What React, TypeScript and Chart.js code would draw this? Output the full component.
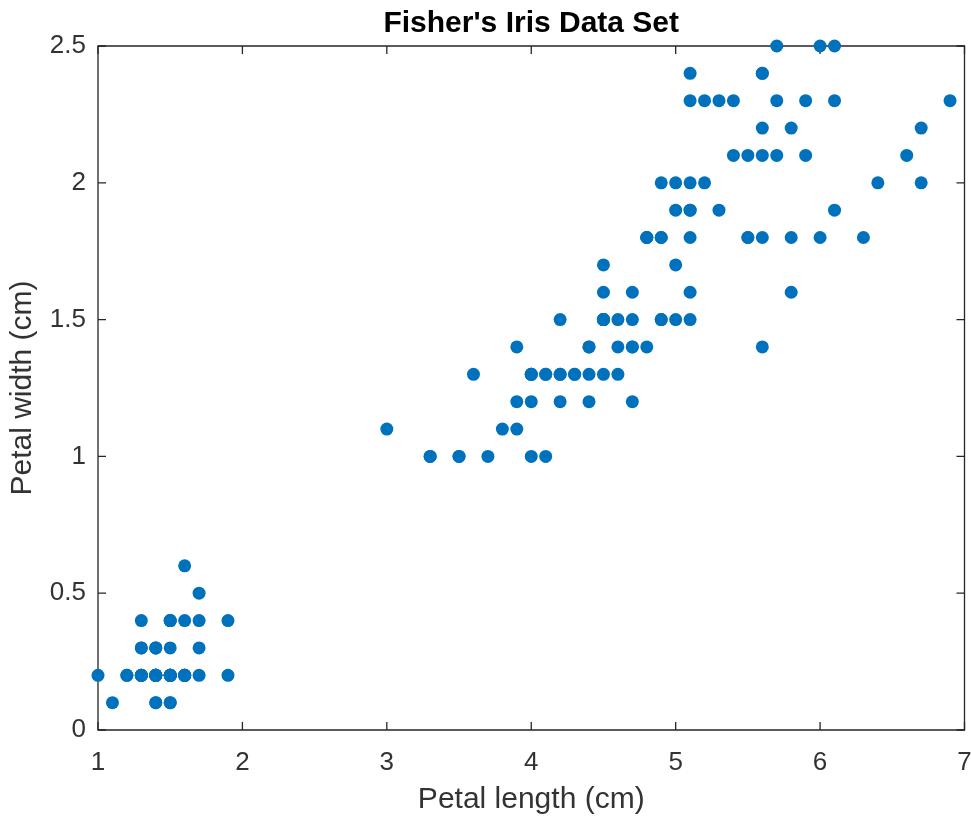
import React, { useEffect, useRef } from "react";
import { Chart, registerables } from "chart.js";

Chart.register(...registerables);

// Fisher's iris data: petal length (cm) and petal width (cm)
const petalLength: number[] = [
  1.4, 1.4, 1.3, 1.5, 1.4, 1.7, 1.4, 1.5, 1.4, 1.5, 1.5, 1.6, 1.4, 1.1, 1.2, 1.5, 1.3, 1.4, 1.7, 1.5,
  1.7, 1.5, 1.0, 1.7, 1.9, 1.6, 1.6, 1.5, 1.4, 1.6, 1.6, 1.5, 1.5, 1.4, 1.5, 1.2, 1.3, 1.4, 1.3, 1.5,
  1.3, 1.3, 1.3, 1.6, 1.9, 1.4, 1.6, 1.4, 1.5, 1.4,
  4.7, 4.5, 4.9, 4.0, 4.6, 4.5, 4.7, 3.3, 4.6, 3.9, 3.5, 4.2, 4.0, 4.7, 3.6, 4.4, 4.5, 4.1, 4.5, 3.9,
  4.8, 4.0, 4.9, 4.7, 4.3, 4.4, 4.8, 5.0, 4.5, 3.5, 3.8, 3.7, 3.9, 5.1, 4.5, 4.5, 4.7, 4.4, 4.1, 4.0,
  4.4, 4.6, 4.0, 3.3, 4.2, 4.2, 4.2, 4.3, 3.0, 4.1,
  6.0, 5.1, 5.9, 5.6, 5.8, 6.6, 4.5, 6.3, 5.8, 6.1, 5.1, 5.3, 5.5, 5.0, 5.1, 5.3, 5.5, 6.7, 6.9, 5.0,
  5.7, 4.9, 6.7, 4.9, 5.7, 6.0, 4.8, 4.9, 5.6, 5.8, 6.1, 6.4, 5.6, 5.1, 5.6, 6.1, 5.6, 5.5, 4.8, 5.4,
  5.6, 5.1, 5.1, 5.9, 5.7, 5.2, 5.0, 5.2, 5.4, 5.1,
];
const petalWidth: number[] = [
  0.2, 0.2, 0.2, 0.2, 0.2, 0.4, 0.3, 0.2, 0.2, 0.1, 0.2, 0.2, 0.1, 0.1, 0.2, 0.4, 0.4, 0.3, 0.3, 0.3,
  0.2, 0.4, 0.2, 0.5, 0.2, 0.2, 0.4, 0.2, 0.2, 0.2, 0.2, 0.4, 0.1, 0.2, 0.2, 0.2, 0.2, 0.1, 0.2, 0.2,
  0.3, 0.3, 0.2, 0.6, 0.4, 0.3, 0.2, 0.2, 0.2, 0.2,
  1.4, 1.5, 1.5, 1.3, 1.5, 1.3, 1.6, 1.0, 1.3, 1.4, 1.0, 1.5, 1.0, 1.4, 1.3, 1.4, 1.5, 1.0, 1.5, 1.1,
  1.8, 1.3, 1.5, 1.2, 1.3, 1.4, 1.4, 1.7, 1.5, 1.0, 1.1, 1.0, 1.2, 1.6, 1.5, 1.6, 1.5, 1.3, 1.3, 1.3,
  1.2, 1.4, 1.2, 1.0, 1.3, 1.2, 1.3, 1.3, 1.1, 1.3,
  2.5, 1.9, 2.1, 1.8, 2.2, 2.1, 1.7, 1.8, 1.8, 2.5, 2.0, 1.9, 2.1, 2.0, 2.4, 2.3, 1.8, 2.2, 2.3, 1.5,
  2.3, 2.0, 2.0, 1.8, 2.1, 1.8, 1.8, 1.8, 2.1, 1.6, 1.9, 2.0, 2.2, 1.5, 1.4, 2.3, 2.4, 1.8, 1.8, 2.1,
  2.4, 2.3, 1.9, 2.3, 2.5, 2.3, 1.9, 2.0, 2.3, 1.8,
];

const xTicks: number[] = [1, 2, 3, 4, 5, 6, 7];
const yTicks: number[] = [0, 0.5, 1, 1.5, 2, 2.5];

const titleText = "Fisher's Iris Data Set";
const xLabel = "Petal length (cm)";
const yLabel = "Petal width (cm)";

const AXIS_COLOR = "#262626";
const TEXT_COLOR = "#333333";
const FONT = "Arial, 'Liberation Sans', Helvetica, sans-serif";

const boxPlugin = {
  id: "matlabBox",
  beforeDatasetsDraw(chart: any) {
    const { ctx, chartArea, scales } = chart;
    const { left, right, top, bottom } = chartArea;
    const tl = 8;
    ctx.save();
    ctx.strokeStyle = AXIS_COLOR;
    ctx.lineWidth = 1.3;
    ctx.beginPath();
    ctx.rect(left, top, right - left, bottom - top);
    ctx.stroke();
    ctx.beginPath();
    for (const v of xTicks) {
      const px = scales.x.getPixelForValue(v);
      ctx.moveTo(px, bottom);
      ctx.lineTo(px, bottom - tl);
      ctx.moveTo(px, top);
      ctx.lineTo(px, top + tl);
    }
    for (const v of yTicks) {
      const py = scales.y.getPixelForValue(v);
      ctx.moveTo(left, py);
      ctx.lineTo(left + tl, py);
      ctx.moveTo(right, py);
      ctx.lineTo(right - tl, py);
    }
    ctx.stroke();
    ctx.restore();
  },
  afterDraw(chart: any) {
    const { ctx, chartArea } = chart;
    const { left, right, top } = chartArea;
    ctx.save();
    // title centred over the axes box, MATLAB style
    ctx.fillStyle = "#000000";
    ctx.font = `bold 30px ${FONT}`;
    ctx.textAlign = "center";
    ctx.textBaseline = "alphabetic";
    ctx.fillText(titleText, (left + right) / 2, top - 14.5);
    ctx.restore();
  },
};

export default function App() {
  const canvasRef = useRef<HTMLCanvasElement | null>(null);

  useEffect(() => {
    document.body.style.margin = "0";
    const canvas = canvasRef.current;
    if (!canvas) return;
    const points = petalLength.map((x, i) => ({ x, y: petalWidth[i] }));
    const chart = new Chart(canvas, {
      type: "scatter",
      data: {
        datasets: [
          {
            data: points,
            backgroundColor: "#0072BD",
            borderColor: "#0072BD",
            borderWidth: 0,
            pointRadius: 6.5,
            pointHoverRadius: 6.5,
            clip: false,
          },
        ],
      },
      options: {
        responsive: false,
        animation: false,
        devicePixelRatio: 1,
        layout: { padding: { left: 0, right: 0, top: 46, bottom: 0 } },
        plugins: {
          legend: { display: false },
          tooltip: { enabled: false },
          title: { display: false },
        },
        scales: {
          x: {
            type: "linear",
            min: 1,
            max: 7,
            afterBuildTicks: (scale: any) => {
              scale.ticks = xTicks.map((v) => ({ value: v }));
            },
            afterFit: (scale: any) => {
              scale.height = 88;
              scale.paddingLeft = 0;
              scale.paddingRight = 6;
            },
            grid: { display: false, drawTicks: false },
            border: { display: false },
            ticks: {
              color: TEXT_COLOR,
              font: { family: FONT, size: 26 },
              padding: 17,
              maxRotation: 0,
              callback: (v: any) => String(v),
            },
            title: {
              display: true,
              text: xLabel,
              color: TEXT_COLOR,
              font: { family: FONT, size: 30, lineHeight: 1.2 },
              padding: { top: 0, bottom: 0 },
            },
          },
          y: {
            type: "linear",
            min: 0,
            max: 2.5,
            afterBuildTicks: (scale: any) => {
              scale.ticks = yTicks.map((v) => ({ value: v }));
            },
            afterFit: (scale: any) => {
              scale.width = 98;
              scale.paddingTop = 0;
              scale.paddingBottom = 0;
            },
            grid: { display: false, drawTicks: false },
            border: { display: false },
            ticks: {
              color: TEXT_COLOR,
              font: { family: FONT, size: 26 },
              padding: 12,
              callback: (v: any) => String(v),
            },
            title: {
              display: true,
              text: yLabel,
              color: TEXT_COLOR,
              font: { family: FONT, size: 30, lineHeight: 1.2 },
              padding: { top: 5, bottom: 0 },
            },
          },
        },
      },
      plugins: [boxPlugin],
    });
    return () => chart.destroy();
  }, []);

  return (
    <div style={{ width: 971, height: 818, background: "#ffffff" }}>
      <canvas ref={canvasRef} width={971} height={818} style={{ display: "block" }} />
    </div>
  );
}
